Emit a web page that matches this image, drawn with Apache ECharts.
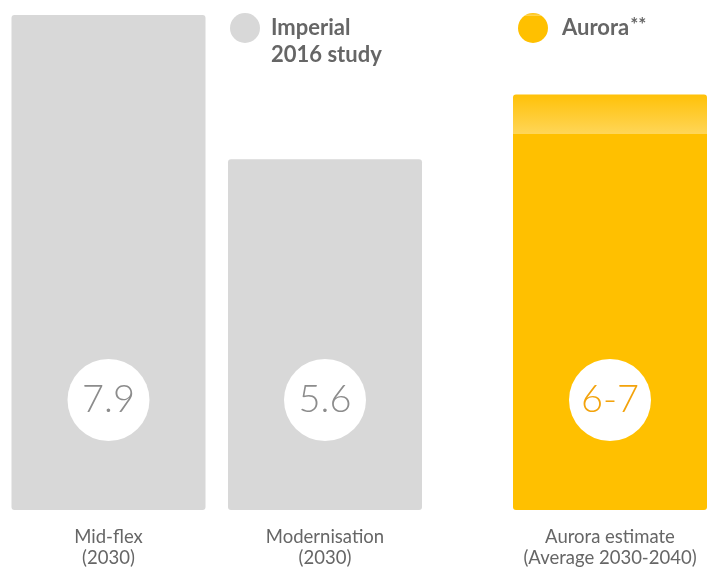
<!DOCTYPE html>
<html><head><meta charset="utf-8">
<script src="https://cdn.jsdelivr.net/npm/echarts@6/dist/echarts.min.js"></script>
<style>html,body{margin:0;padding:0;background:#fff}#c{width:707px;height:569px}</style>
</head><body><div id="c"></div>
<script>
// Data
const categories = ['Mid-flex\n(2030)', 'Modernisation\n(2030)', 'Aurora estimate\n(Average 2030-2040)'];
const imperialValues = [7.9, 5.6];
const imperialLabels = ['7.9', '5.6'];
const auroraLow = 6;
const auroraHigh = 6.63;
const auroraLabel = '6-7';

// Layout (pixel-unit x axis centres)
const xCenters = [108.5, 325, 610];

const chart = echarts.init(document.getElementById('c'));
const grey = '#d8d8d8';
const gold = '#ffc000';
const bandOffset = (auroraHigh - auroraLow) / auroraHigh;

function circleLabel(color, text) {
  return {
    show: true,
    position: 'insideBottom',
    distance: 69,
    formatter: () => text,
    backgroundColor: '#fff',
    width: 82, height: 82, lineHeight: 82,
    borderRadius: 41,
    align: 'center',
    color: color,
    fontFamily: 'Lato',
    fontWeight: 300,
    fontSize: 38
  };
}

chart.setOption({
  animation: false,
  grid: { left: 0, right: 0, top: 0, bottom: 59 },
  xAxis: {
    type: 'value', min: 0, max: 707,
    axisLine: { show: false }, axisTick: { show: false }, splitLine: { show: false },
    axisLabel: {
      customValues: xCenters,
      formatter: (v) => categories[xCenters.indexOf(v)] || '',
      color: '#666', fontFamily: 'Lato', fontSize: 18.5, lineHeight: 21, margin: 17
    }
  },
  yAxis: { type: 'value', min: 0, max: 8.14, show: false },
  legend: [
    {
      left: 225, top: -17.5, icon: 'circle', itemWidth: 30, itemHeight: 30,
      data: ['Imperial 2016 study'],
      formatter: () => '\nImperial\n2016 study',
      textStyle: { color: '#666', fontFamily: 'Lato', fontWeight: 'bold', fontSize: 22, lineHeight: 27, padding: [0, 0, 0, 6] }
    },
    {
      left: 513, top: 8, icon: 'circle', itemWidth: 30, itemHeight: 30,
      data: ['Aurora'],
      formatter: () => '{a|Aurora}{s|**}',
      textStyle: {
        color: '#666', fontFamily: 'Lato', fontWeight: 'bold', fontSize: 22, padding: [0, 0, 0, 9],
        rich: {
          a: { color: '#666', fontFamily: 'Lato', fontWeight: 'bold', fontSize: 22 },
          s: { color: '#666', fontFamily: 'Lato', fontWeight: 'bold', fontSize: 19, verticalAlign: 'top', padding: [0, 0, 6, 1] }
        }
      }
    }
  ],
  series: [
    {
      name: 'Imperial 2016 study', type: 'bar', barWidth: 194, barGap: '-100%',
      itemStyle: { color: grey, borderRadius: 3 },
      data: imperialValues.map((v, i) => ({
        value: [xCenters[i], v],
        label: circleLabel('#8c8c8c', imperialLabels[i])
      }))
    },
    {
      name: 'Aurora', type: 'bar', barWidth: 194, barGap: '-100%',
      itemStyle: {
        borderRadius: 3,
        color: new echarts.graphic.LinearGradient(0, 0, 0, 1, [
          { offset: 0, color: '#ffc108' },
          { offset: bandOffset, color: '#ffd658' },
          { offset: bandOffset + 0.0001, color: gold },
          { offset: 1, color: gold }
        ])
      },
      data: [{ value: [xCenters[2], auroraHigh], label: circleLabel('#f3a30c', auroraLabel) }]
    }
  ]
});
</script>
</body></html>
